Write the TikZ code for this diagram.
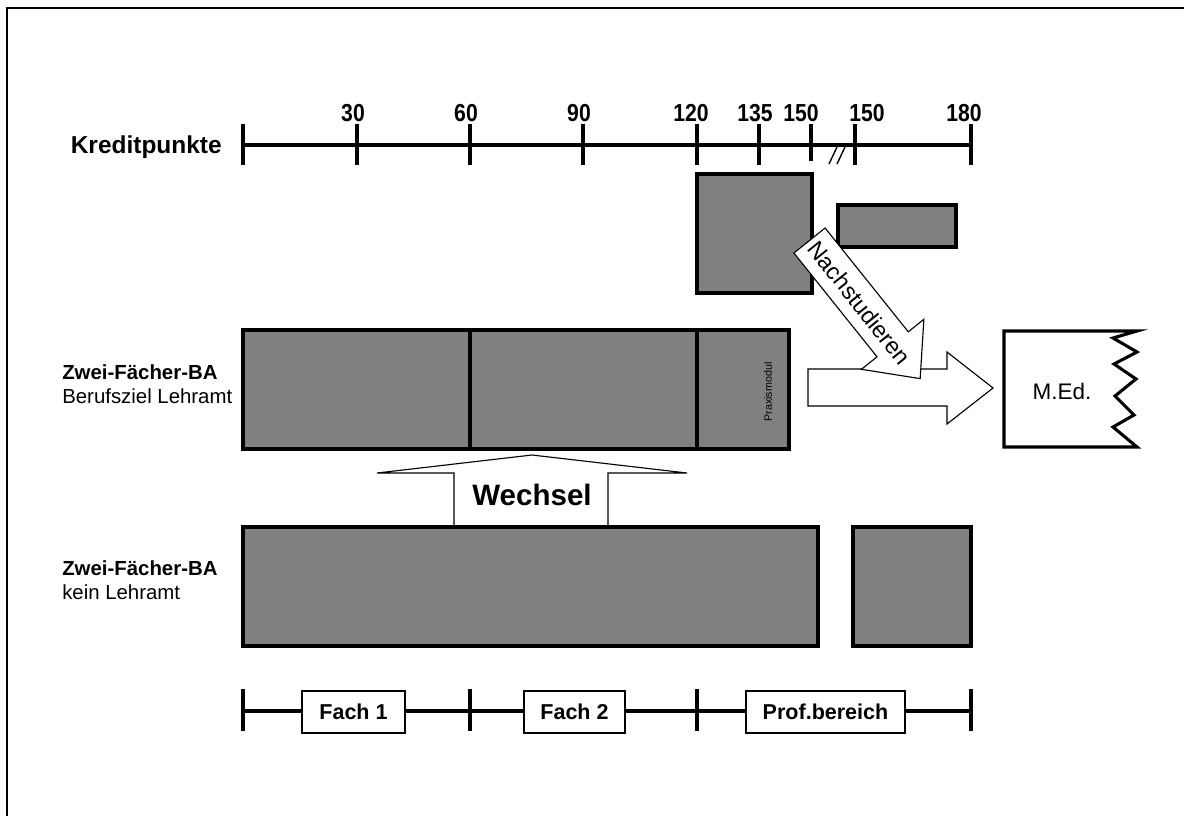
\documentclass[tikz,border=0pt]{standalone}
\usepackage{fontspec}
\setmainfont{Liberation Sans}
\usetikzlibrary{positioning,calc}
\tikzset{
  graybox/.style={draw, line width=2.2pt, fill=black!50},
  axisline/.style={line width=2.4pt},
  blockarrow/.style={draw, line width=0.8pt, fill=white, line join=miter},
  fachbox/.style={draw, line width=0.8pt, fill=white, minimum height=1.05cm, inner sep=0pt,
    font=\fontsize{15.3}{18}\selectfont\bfseries},
  ticklabel/.style={anchor=base, inner sep=0pt, font=\fontsize{17.5}{20}\selectfont\bfseries},
  rowlabel/.style={anchor=base west, inner sep=0pt, font=\fontsize{14.5}{17}\selectfont},
}

\begin{document}
\begin{tikzpicture}[x=0.025cm, y=-0.025cm]
\useasboundingbox (0,0) rectangle (1184,816);
\draw[line width=1.5pt] (1184,8) -- (7,8) -- (7,816);

% Kreditpunkte
\node[anchor=base east, inner sep=0pt, font=\fontsize{17.4}{20}\selectfont\bfseries] (kp) at (222,153) {Kreditpunkte};
\draw[axisline] (243,145) -- (971,145);
\foreach \x/\lx/\lbl [count=\i] in {357/353/30,470/466/60,583/579/90,697/691/120,759/755/135,811/801/150,855/867/150,971/964/180}
  \node[ticklabel] (kp\i) at (\lx,121) {\scalebox{0.86}[1]{\lbl}};
\foreach \x in {243,357,470,583,697,759,855,971}
  \draw[axisline] (\x,124) -- (\x,165);
\draw[axisline] (811,124) -- (811,161);
\draw[line width=1pt] (829,164) -- (837,147) (837,164) -- (845,147);

% obere Kaestchen
\draw[graybox] (697,174) rectangle (812,293);
\draw[graybox] (838,205) rectangle (956,247);

% Zwei-Faecher-BA mit Lehramt
\node[rowlabel, font=\fontsize{14.5}{17}\selectfont\bfseries] (zfba) at (62,379) {Zwei-Fächer-BA};
\node[rowlabel] (ziel) at (62,403) {Berufsziel Lehramt};
\draw[graybox] (243,330) rectangle (789,449);
\draw[line width=2.2pt] (470,330) -- (470,449) (697,330) -- (697,449);
\node[rotate=90, font=\fontsize{7.6}{9}\selectfont] (praxis) at (768,392) {Praxismodul};

% Wechsel
\draw[blockarrow] (454,527) -- (454,473) -- (377,473) -- (532,455) -- (687,473) -- (608,473) -- (608,527) -- cycle;
\node[font=\fontsize{21}{24}\selectfont\bfseries] (wechsel) at (532,495) {Wechsel};

% Zwei-Faecher-BA ohne Lehramt
\node[rowlabel, font=\fontsize{14.5}{17}\selectfont\bfseries] (zfbb) at (62,575) {Zwei-Fächer-BA};
\node[rowlabel] (kein) at (62,599) {kein Lehramt};
\draw[graybox] (243,527) rectangle (818,646);
\draw[graybox] (853,527) rectangle (971,646);

% M.Ed.
\draw[blockarrow] (808,369) -- (947,369) -- (947,352) -- (993,388) -- (947,424) -- (947,406) -- (808,406) -- cycle;
\draw[line width=2.2pt, fill=white, line join=miter]
  (1137,331) -- (1004,331) -- (1004,447) -- (1137,447)
  -- (1113,427) -- (1134,415) -- (1115,396) -- (1136,379) -- (1114,364) -- (1137,352) -- (1113,338) -- cycle;
\node[font=\fontsize{16}{19}\selectfont] (med) at (1062,391) {M.Ed.};

\begin{scope}[shift={(809.5,240.5)}, rotate=-51.3]
  \draw[blockarrow] (0,-20) -- (133,-20) -- (133,-40) -- (177,0) -- (133,40) -- (133,20) -- (0,20) -- cycle;
  \node[rotate=-51.3, font=\fontsize{16.5}{19}\selectfont] (nach) at (80,0) {Nachstudieren};
\end{scope}

% Bereiche
\draw[axisline] (243,711) -- (971,711);
\foreach \x in {243,470,697,971}
  \draw[axisline] (\x,689) -- (\x,731);
\node[fachbox, minimum width=2.575cm] (fach1) at (353.5,712) {Fach 1};
\node[fachbox, minimum width=2.525cm] (fach2) at (574.5,712) {Fach 2};
\node[fachbox, minimum width=3.975cm] (prof) at (825.5,712) {Prof.bereich};
\end{tikzpicture}
\end{document}
